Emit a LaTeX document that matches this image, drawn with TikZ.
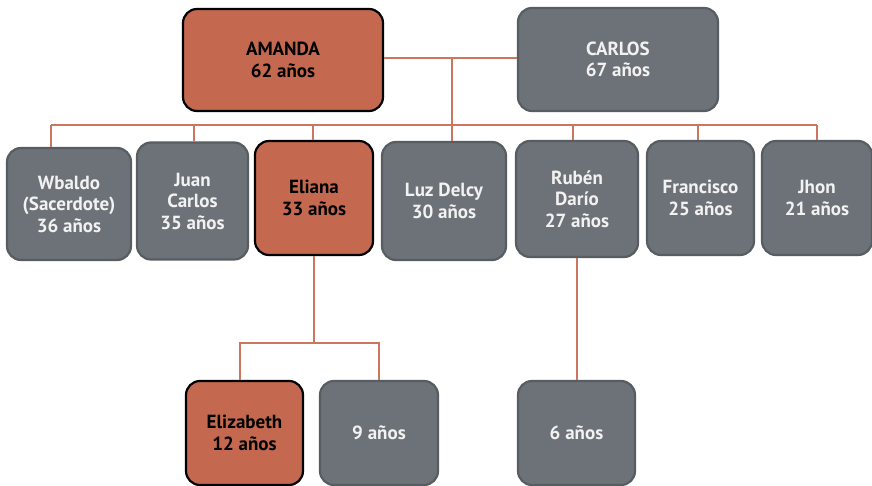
\documentclass[tikz,border=0pt]{standalone}
\usepackage{fontspec}
\setmainfont{PT Sans}
\definecolor{orfill}{RGB}{196,105,80}
\definecolor{gyfill}{RGB}{109,114,120}
\definecolor{gyline}{RGB}{88,93,98}
\definecolor{conn}{RGB}{204,118,96}
\definecolor{lighttxt}{RGB}{242,242,242}
\begin{document}
\begin{tikzpicture}[x=1pt,y=-1pt,
  box/.style={rounded corners=14pt, line width=2.2pt, align=center,
    font=\fontsize{19}{21.5}\selectfont\bfseries, inner sep=0pt},
  orbox/.style={box, fill=orfill, draw=black, text=black},
  gybox/.style={box, fill=gyfill, draw=gyline, text=lighttxt},
  link/.style={draw=conn, line width=1.2pt}]
\useasboundingbox[fill=white] (0,0) rectangle (872,486);
% parents
\node[orbox, minimum width=200pt, minimum height=102pt] (amanda) at (283,60) {AMANDA\\62 años};
\node[gybox, minimum width=200pt, minimum height=103pt] (carlos) at (618,59.5) {CARLOS\\67 años};
% children
\node[gybox, minimum width=124pt, minimum height=112pt] (wb) at (69,204) {Wbaldo\\(Sacerdote)\\36 años};
\node[gybox, minimum width=111pt, minimum height=117pt] (jc) at (192.5,201) {Juan\\Carlos\\35 años};
\node[orbox, minimum width=118pt, minimum height=114pt] (el) at (314,198) {Eliana\\33 años};
\node[gybox, minimum width=124pt, minimum height=118pt] (lz) at (444,201) {Luz Delcy\\30 años};
\node[gybox, minimum width=122pt, minimum height=116pt] (rd) at (577,199) {Rubén\\Darío\\27 años};
\node[gybox, minimum width=107pt, minimum height=114pt] (fr) at (700.5,198) {Francisco\\25 años};
\node[gybox, minimum width=110pt, minimum height=114pt] (jh) at (817,198) {Jhon\\21 años};
% grandchildren
\node[orbox, minimum width=117pt, minimum height=104pt] (ez) at (244.5,433) {Elizabeth\\12 años};
\node[gybox, minimum width=118pt, minimum height=104pt] (nine) at (379,433) {9 años};
\node[gybox, minimum width=117pt, minimum height=104pt] (six) at (576.5,433) {6 años};
% connector points
\coordinate (m) at (452,58);
\coordinate (busL) at (51,125);
\coordinate (busR) at (817,125);
\coordinate (dwb) at (51,125);
\coordinate (djc) at (194,125);
\coordinate (del) at (313,125);
\coordinate (drd) at (573,125);
\coordinate (dfr) at (698,125);
\coordinate (djh) at (817,125);
\coordinate (e1) at (314,343);
\coordinate (e2) at (240,343);
\coordinate (e3) at (379,343);
\coordinate (r1) at (577,260);
% connectors
\path[link] (amanda.east |- m) -- (carlos.west |- m);
\path[link] (m) -- (m |- lz.north);
\path[link] (busL) -- (busR);
\path[link] (dwb) -- (dwb |- wb.north);
\path[link] (djc) -- (djc |- jc.north);
\path[link] (del) -- (del |- el.north);
\path[link] (drd) -- (drd |- rd.north);
\path[link] (dfr) -- (dfr |- fr.north);
\path[link] (djh) -- (djh |- jh.north);
\path[link] (e1 |- el.south) -- (e1);
\path[link] (e2 |- ez.north) -- (e2) -- (e3) -- (e3 |- nine.north);
\path[link] (r1 |- rd.south) -- (r1 |- six.north);
\end{tikzpicture}
\end{document}
